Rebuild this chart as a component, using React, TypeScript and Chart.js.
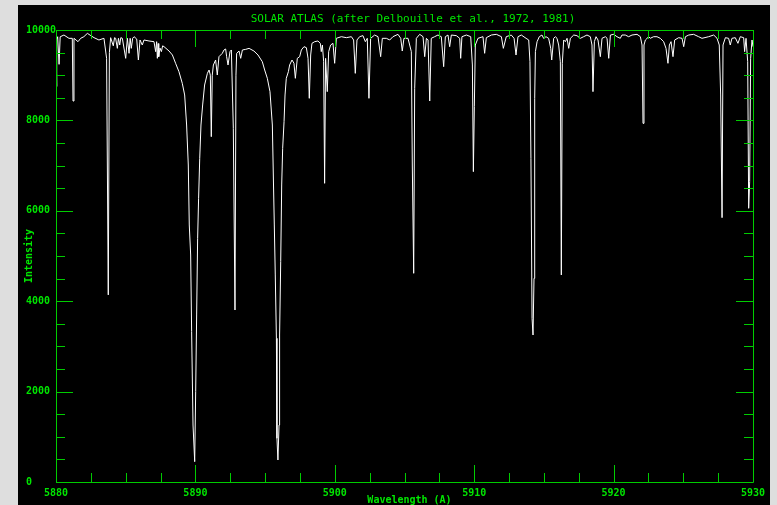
import React, { useEffect, useRef } from "react";
import { Chart, registerables } from "chart.js";

Chart.register(...registerables);

const titleText = "SOLAR ATLAS (after Delbouille et al., 1972, 1981)";
const xTitle = "Wavelength (A)";
const yTitle = "Intensity";

const xMajorTicks = [5880, 5890, 5900, 5910, 5920, 5930];
const yMajorTicks = [0, 2000, 4000, 6000, 8000, 10000];

const wavelength = [
  5880.0, 5880.03, 5880.07, 5880.12, 5880.22, 5880.3, 5880.57, 5880.93, 5881.17, 5881.22,
  5881.29, 5881.58, 5881.77, 5882.0, 5882.25, 5882.5, 5882.73, 5883.08, 5883.44, 5883.63,
  5883.75, 5883.83, 5883.92, 5884.11, 5884.2, 5884.28, 5884.4, 5884.48, 5884.57, 5884.65,
  5884.76, 5885.0, 5885.12, 5885.24, 5885.32, 5885.4, 5885.5, 5885.6, 5885.79, 5885.91,
  5886.03, 5886.19, 5886.31, 5886.67, 5887.03, 5887.15, 5887.22, 5887.27, 5887.33, 5887.37,
  5887.46, 5887.56, 5887.65, 5887.75, 5888.11, 5888.35, 5888.58, 5888.82, 5889.06, 5889.23,
  5889.37, 5889.49, 5889.56, 5889.66, 5889.73, 5889.83, 5889.95, 5890.02, 5890.09, 5890.16,
  5890.23, 5890.31, 5890.4, 5890.52, 5890.66, 5890.86, 5890.98, 5891.07, 5891.14, 5891.21,
  5891.29, 5891.45, 5891.57, 5891.69, 5891.93, 5892.05, 5892.17, 5892.24, 5892.34, 5892.48,
  5892.58, 5892.72, 5892.84, 5892.91, 5892.96, 5893.13, 5893.25, 5893.37, 5893.61, 5893.85,
  5894.2, 5894.49, 5894.8, 5894.97, 5895.16, 5895.35, 5895.52, 5895.59, 5895.66, 5895.73,
  5895.81, 5895.85, 5895.92, 5896.0, 5896.04, 5896.12, 5896.19, 5896.26, 5896.36, 5896.43,
  5896.52, 5896.67,
  5896.76, 5896.93, 5897.07, 5897.17, 5897.31, 5897.48, 5897.6, 5897.79, 5897.96, 5898.08,
  5898.17, 5898.27, 5898.36, 5898.56, 5898.79, 5898.96, 5899.03, 5899.11, 5899.2, 5899.27,
  5899.34, 5899.46, 5899.56, 5899.7, 5899.87, 5899.99, 5900.11, 5900.47, 5900.83, 5901.19,
  5901.35, 5901.47, 5901.59, 5901.78, 5902.02, 5902.19, 5902.33, 5902.45, 5902.57, 5902.86,
  5903.1, 5903.29, 5903.41, 5903.7, 5903.94, 5904.17, 5904.53, 5904.73, 5904.84, 5904.96,
  5905.25, 5905.49, 5905.56, 5905.66, 5905.73, 5905.85, 5906.09, 5906.33, 5906.45, 5906.57,
  5906.69, 5906.81, 5906.92, 5907.16, 5907.4, 5907.64, 5907.81, 5907.93, 5908.12, 5908.24,
  5908.36, 5908.72, 5908.96, 5909.03, 5909.12, 5909.44, 5909.75, 5909.87, 5909.94, 5910.01,
  5910.08, 5910.27, 5910.63, 5910.75, 5910.87, 5911.23, 5911.59, 5911.95, 5912.09, 5912.3,
  5912.66, 5912.86, 5913.0, 5913.14, 5913.38,
  5913.72, 5913.91, 5914.0, 5914.07, 5914.15, 5914.22, 5914.29, 5914.34, 5914.39, 5914.51,
  5914.67, 5914.86, 5914.98, 5915.15, 5915.34, 5915.49, 5915.56, 5915.7, 5915.82, 5915.94,
  5916.06, 5916.18, 5916.25, 5916.32, 5916.42, 5916.54, 5916.66, 5916.78, 5916.9, 5917.14,
  5917.37, 5917.61, 5917.85, 5918.09, 5918.33, 5918.45, 5918.52, 5918.62, 5918.74, 5918.88,
  5919.05, 5919.17, 5919.41, 5919.53, 5919.65, 5919.77, 5920.01, 5920.24, 5920.48, 5920.6,
  5920.84, 5921.08, 5921.32, 5921.68, 5921.92, 5922.04, 5922.11, 5922.18, 5922.28, 5922.52,
  5922.63, 5922.87, 5923.11, 5923.35, 5923.59, 5923.76, 5923.9, 5924.0, 5924.12, 5924.26,
  5924.38, 5924.67, 5924.91, 5925.03, 5925.15, 5925.39, 5925.74, 5926.1, 5926.34, 5926.82,
  5927.18, 5927.42, 5927.58, 5927.68, 5927.78, 5927.85, 5928.02, 5928.25, 5928.37, 5928.49,
  5928.73, 5928.92, 5929.09, 5929.33, 5929.4, 5929.5, 5929.62, 5929.69, 5929.76, 5929.83,
  5929.93, 5930.0,
];

const intensity = [
  9850, 8750, 9800, 9850, 9240, 9850, 9889, 9816, 9816, 8429,
  9816, 9742, 9816, 9852, 9926, 9875, 9830, 9779, 9816, 9373,
  4140, 9500, 9830, 9650, 9830, 9816, 9594, 9816, 9668, 9830,
  9816, 9373, 9816, 9484, 9816, 9594, 9816, 9852, 9800, 9336,
  9779, 9668, 9779, 9757, 9742, 9521, 9742, 9373, 9700, 9410,
  9600, 9521, 9650, 9631, 9535, 9447, 9263, 9078, 8820, 8562,
  7898, 7013, 5686, 5022, 3326, 1261, 450, 1999, 3695, 5391,
  6276, 7161, 7898, 8341, 8783, 9041, 9115, 9000, 7640, 9000,
  9226, 9336, 9004, 9410, 9484, 9558, 9580, 9410, 9226, 9521,
  9558, 7825, 3805, 9000, 9484, 9535, 9373, 9558, 9572, 9594,
  9535, 9447, 9299, 9115, 8931, 8636, 7898, 6792, 5686, 4580,
  3179, 966, 487, 1261, 3252, 4875, 6571, 7382, 7972, 8562,
  8931, 9078,
  9226, 9336, 9263, 8931, 9373, 9410, 9558, 9631, 9609, 9373,
  8488, 9447, 9705, 9742, 9757, 9705, 9521, 9668, 9299, 6608,
  9373, 8636, 9521, 9668, 9705, 9263, 9816, 9852, 9830, 9852,
  9779, 9041, 9779, 9852, 9875, 9742, 9816, 8488, 9816, 9889,
  9852, 9410, 9816, 9816, 9779, 9852, 9904, 9816, 9535, 9816,
  9816, 9521, 7013, 4617, 8710, 9816, 9904, 9852, 9410, 9816,
  9779, 8429, 9816, 9852, 9889, 9852, 9189, 9852, 9889, 9631,
  9889, 9875, 9816, 9373, 9852, 9889, 9852, 9226, 6866, 8304,
  9668, 9816, 9852, 9484, 9830, 9889, 9904, 9852, 9594, 9852,
  9889, 9816, 9447, 9852, 9889,
  9816, 9779, 9299, 7161, 3621, 3252, 4506, 8488, 9521, 9742,
  9852, 9889, 9816, 9852, 9816, 9594, 9336, 9816, 9852, 9816,
  9668, 9299, 4580, 9263, 9779, 9742, 9816, 9594, 9816, 9889,
  9875, 9816, 9852, 9889, 9852, 9668, 8636, 9742, 9852, 9779,
  9410, 9816, 9852, 9816, 9373, 9889, 9904, 9852, 9816, 9889,
  9889, 9852, 9889, 9904, 9852, 9668, 7935, 9668, 9779, 9852,
  9816, 9852, 9852, 9816, 9742, 9594, 9263, 9668, 9742, 9410,
  9779, 9830, 9816, 9631, 9852, 9889, 9904, 9852, 9816, 9852,
  9889, 9816, 9668, 8562, 5848, 9668, 9830, 9816, 9668, 9816,
  9830, 9705, 9852, 9830, 9521, 9816, 9299, 6055, 6644, 9373,
  9779, 9631,
];

const GREEN_LINE = "#00cc00";
const GREEN_TEXT = "#00e600";
const MONO = "'DejaVu Sans Mono', 'Liberation Mono', monospace";

const framePlugin = {
  id: "frame",
  beforeDraw(chart: any) {
    const ctx = chart.ctx;
    ctx.save();
    ctx.fillStyle = "#dedede";
    ctx.fillRect(0, 0, chart.width, chart.height);
    ctx.fillStyle = "#000000";
    ctx.fillRect(18, 5, 752, chart.height - 5);
    ctx.restore();
  },
  afterDraw(chart: any) {
    const ctx = chart.ctx;
    const xs = chart.scales.x;
    const ys = chart.scales.y;
    const { left, right, top, bottom } = chart.chartArea;
    ctx.save();
    ctx.strokeStyle = GREEN_LINE;
    ctx.lineWidth = 1;
    ctx.beginPath();
    ctx.rect(Math.round(left) + 0.5, Math.round(top) + 0.5, Math.round(right - left), Math.round(bottom - top));
    ctx.stroke();
    ctx.beginPath();
    for (let v = 5880; v <= 5930.001; v += 2.5) {
      const px = Math.round(xs.getPixelForValue(v)) + 0.5;
      const major = Math.abs(v % 10) < 0.001;
      const len = major ? 17 : 9;
      ctx.moveTo(px, bottom);
      ctx.lineTo(px, bottom - len);
      ctx.moveTo(px, top);
      ctx.lineTo(px, top + len);
    }
    for (let v = 0; v <= 10000; v += 500) {
      const py = Math.round(ys.getPixelForValue(v)) + 0.5;
      const major = v % 2000 === 0;
      const len = major ? 17 : 9;
      ctx.moveTo(left, py);
      ctx.lineTo(left + len, py);
      ctx.moveTo(right, py);
      ctx.lineTo(right - len, py);
    }
    ctx.stroke();

    ctx.fillStyle = GREEN_TEXT;
    ctx.font = `11px ${MONO}`;
    ctx.textAlign = "center";
    ctx.textBaseline = "middle";
    ctx.fillText(titleText, 413, 19);

    ctx.font = `bold 10px ${MONO}`;
    ctx.fillText(xTitle, (left + right) / 2 + 5, 500);
    ctx.translate(29, (top + bottom) / 2);
    ctx.rotate(-Math.PI / 2);
    ctx.fillText(yTitle, 0, 0);
    ctx.restore();
  },
};

export default function App() {
  const ref = useRef<HTMLCanvasElement | null>(null);
  useEffect(() => {
    document.body.style.margin = "0";
    const points = wavelength.map((w, i) => ({ x: w, y: intensity[i] }));
    const chart = new Chart(ref.current as HTMLCanvasElement, {
      type: "scatter",
      data: {
        datasets: [
          {
            data: points,
            showLine: true,
            borderColor: "#ffffff",
            borderWidth: 1,
            pointRadius: 0,
            tension: 0,
          },
        ],
      },
      options: {
        responsive: false,
        animation: false,
        devicePixelRatio: 1,
        layout: { padding: { left: 26, top: 30, right: 24, bottom: 0 } },
        plugins: { legend: { display: false }, tooltip: { enabled: false }, title: { display: false } },
        scales: {
          x: {
            type: "linear",
            min: 5880,
            max: 5930,
            afterFit: (s: any) => {
              s.height = 23;
            },
            afterBuildTicks: (s: any) => {
              s.ticks = xMajorTicks.map((v) => ({ value: v }));
            },
            grid: { display: false, drawTicks: false },
            border: { display: false },
            ticks: {
              color: GREEN_TEXT,
              font: { family: MONO, size: 10, weight: "bold" },
              padding: 5,
              maxRotation: 0,
              autoSkip: false,
              callback: (v: any) => String(v),
            },
          },
          y: {
            min: 0,
            max: 10000,
            afterFit: (s: any) => {
              s.width = 30;
            },
            afterBuildTicks: (s: any) => {
              s.ticks = yMajorTicks.map((v) => ({ value: v }));
            },
            grid: { display: false, drawTicks: false },
            border: { display: false },
            ticks: {
              color: GREEN_TEXT,
              font: { family: MONO, size: 10, weight: "bold" },
              padding: 7,
              crossAlign: "far",
              autoSkip: false,
              callback: (v: any) => String(v),
            },
          },
        },
      },
      plugins: [framePlugin],
    });
    return () => chart.destroy();
  }, []);
  return (
    <div style={{ width: 777, height: 505 }}>
      <canvas ref={ref} width={777} height={505} style={{ display: "block" }} />
    </div>
  );
}
